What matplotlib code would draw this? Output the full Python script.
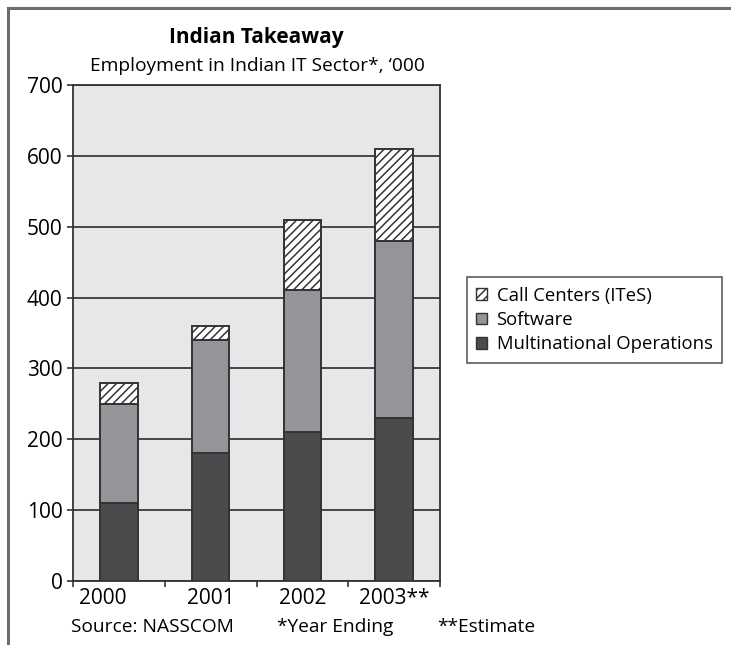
import matplotlib
matplotlib.use("Agg")
import matplotlib.pyplot as plt
import matplotlib.transforms as mtransforms
from matplotlib.lines import Line2D
from matplotlib.patches import Patch
import numpy as np

plt.rcParams['font.family'] = ['Open Sans', 'DejaVu Sans']
plt.rcParams['hatch.linewidth'] = 1.1
plt.rcParams['hatch.color'] = '#222222'

years = ['2000', '2001', '2002', '2003**']
multinational = [110, 180, 210, 230]
software = [140, 160, 200, 250]
call_centers = [30, 20, 100, 130]
y_ticks = [0, 100, 200, 300, 400, 500, 600, 700]

c_mnc = '#4b4b4d'
c_sw = '#939598'
c_bg = '#e6e7e8'
c_edge = '#333333'

fig = plt.figure(figsize=(7.31, 6.45), dpi=100)
ax = fig.add_axes([73 / 731, 1 - 581 / 645, (440 - 73) / 731, (581 - 85) / 645])
ax.set_facecolor(c_bg)

x = np.arange(len(years))
w = 0.41
mnc = np.array(multinational)
sw = np.array(software)
cc = np.array(call_centers)

ax.bar(x, mnc, w, color=c_mnc, edgecolor=c_edge, linewidth=1.4, zorder=3)
ax.bar(x, sw, w, bottom=mnc, color=c_sw, edgecolor=c_edge, linewidth=1.4, zorder=3)
ax.bar(x, cc, w, bottom=mnc + sw, color='white', edgecolor=c_edge, hatch='////',
       linewidth=1.4, zorder=3)

ax.set_xlim(-0.5, len(years) - 0.5)
ax.set_ylim(0, 700)
ax.set_yticks(y_ticks)
ax.set_yticklabels([str(v) for v in y_ticks])
ax.yaxis.grid(True, color='#3a3a3a', linewidth=1.3, zorder=1)
ax.set_axisbelow(True)

ax.set_xticks(x)
ax.set_xticklabels(years)
ax.set_xticks(np.arange(-0.5, len(years)), minor=True)
ax.tick_params(axis='x', which='major', length=0, pad=5, labelsize=15)
ax.tick_params(axis='x', which='minor', length=4, width=1.2, color='#333333')
ax.tick_params(axis='y', length=4.5, width=1.2, color='#333333', labelsize=15, pad=3)

# nudge first year label to the left
lbl0 = ax.get_xticklabels()[0]
lbl0.set_transform(lbl0.get_transform() + mtransforms.ScaledTranslation(-0.16, 0, fig.dpi_scale_trans))

for s in ax.spines.values():
    s.set_color('#333333')
    s.set_linewidth(1.3)

fig.text(256 / 731, 1 - 38 / 645, 'Indian Takeaway', ha='center', va='center',
         fontsize=15, fontweight='bold')
fig.text(257 / 731, 1 - 66 / 645, "Employment in Indian IT Sector*, \u2018000", ha='center',
         va='center', fontsize=13.8)

fig.text(71 / 731, 1 - 627 / 645, 'Source: NASSCOM', ha='left', va='center', fontsize=13.8)
fig.text(277 / 731, 1 - 627 / 645, '*Year Ending', ha='left', va='center', fontsize=13.8)
fig.text(437 / 731, 1 - 627 / 645, '**Estimate', ha='left', va='center', fontsize=13.8)

handles = [
    Patch(facecolor='white', edgecolor=c_edge, hatch='////', label='Call Centers (ITeS)'),
    Patch(facecolor=c_sw, edgecolor=c_edge, label='Software'),
    Patch(facecolor=c_mnc, edgecolor=c_edge, label='Multinational Operations'),
]
leg = fig.legend(handles=handles, loc='center left', bbox_to_anchor=(467 / 731, 1 - 320 / 645),
                 frameon=True, fancybox=False, fontsize=13.3, handlelength=0.6,
                 handleheight=0.6, handletextpad=0.5, labelspacing=0.35, borderpad=0.5,
                 borderaxespad=0)
leg.get_frame().set_edgecolor('#222222')
leg.get_frame().set_linewidth(1.1)

# outer frame: top and left rules
fig.add_artist(Line2D([8 / 731, 1], [1 - 8 / 645, 1 - 8 / 645], color='#6d6d6d', linewidth=2.2,
                      transform=fig.transFigure))
fig.add_artist(Line2D([8 / 731, 8 / 731], [0, 1 - 8 / 645], color='#6d6d6d', linewidth=2.2,
                      transform=fig.transFigure))

fig.savefig('out.png', dpi=100, facecolor='white')
